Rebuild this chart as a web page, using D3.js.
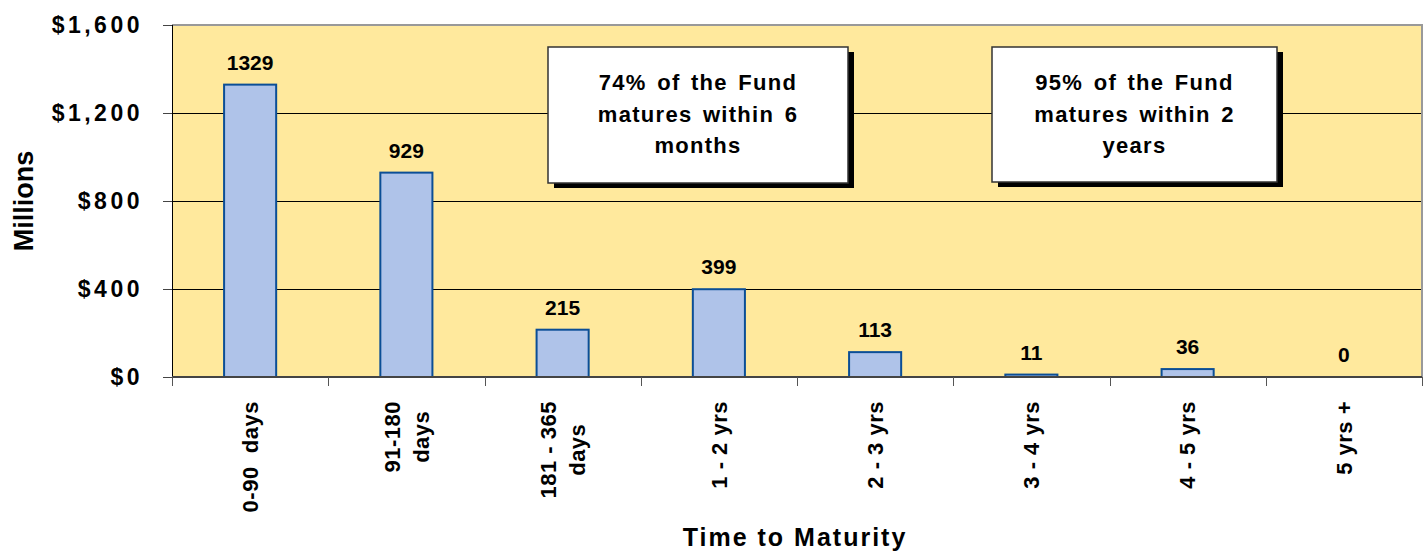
<!DOCTYPE html>
<html lang="en">
<head>
<meta charset="utf-8">
<style>
  body { margin: 0; background: #fff; }
  svg { display: block; font-family: "Liberation Sans", Arial, sans-serif; font-weight: bold; }
</style>
</head>
<body>
<svg width="1427" height="553"></svg>
<script src="https://cdn.jsdelivr.net/npm/d3@7/dist/d3.min.js"></script>
<script>
// chart data
var categories = ["0-90  days", "91-180\ndays", "181 - 365\ndays", "1 - 2 yrs", "2 - 3 yrs", "3 - 4 yrs", "4 - 5 yrs", "5 yrs +"];
var values = [1329, 929, 215, 399, 113, 11, 36, 0];
var yTicks = [0, 400, 800, 1200, 1600];
var notes = [
    ["74% of the Fund", "matures within 6", "months"],
    ["95% of the Fund", "matures within 2", "years"]
];

var svg = d3.select("svg"),
    margin = { top: 25, right: 5, bottom: 176, left: 172 },
    width = +svg.attr("width") - margin.left - margin.right,
    height = +svg.attr("height") - margin.top - margin.bottom;

var x = d3.scaleBand().domain(d3.range(categories.length)).range([0, width])
        .paddingInner(2 / 3).paddingOuter(1 / 3),
    y = d3.scaleLinear().domain([0, 1600]).range([height, 0]);

var g = svg.append("g")
    .attr("transform", "translate(" + margin.left + "," + margin.top + ")");

// plot background
g.append("rect")
    .attr("width", width).attr("height", height)
    .attr("fill", "#FFE99D");

// gridlines
g.selectAll(".grid")
    .data(yTicks.filter(function(d) { return d > 0 && d < 1600; }))
    .enter().append("line")
    .attr("x1", 0).attr("x2", width)
    .attr("y1", function(d) { return y(d) + 0.5; })
    .attr("y2", function(d) { return y(d) + 0.5; })
    .attr("stroke", "#000").attr("stroke-width", 1);

// top / right border
g.append("path")
    .attr("d", "M0," + y(1600) + "H" + width + "V" + height)
    .attr("fill", "none").attr("stroke", "#999").attr("stroke-width", 2);

// bars
var step = x.step();
g.selectAll(".bar")
    .data(values)
    .enter().append("rect")
    .attr("class", "bar")
    .attr("x", function(d, i) { return x(i); })
    .attr("y", function(d) { return y(d); })
    .attr("width", x.bandwidth())
    .attr("height", function(d) { return height - y(d); })
    .attr("fill", "#AFC3E9")
    .attr("stroke", "#0B4E96")
    .attr("stroke-width", 2)
    .style("display", function(d) { return d > 0 ? null : "none"; });

// value labels
g.selectAll(".val")
    .data(values)
    .enter().append("text")
    .attr("x", function(d, i) { return x(i) + x.bandwidth() / 2; })
    .attr("y", function(d) { return y(d) - 15; })
    .attr("text-anchor", "middle")
    .style("font-size", "21px")
    .attr("fill", "#000")
    .text(function(d) { return d; });

// y axis
var yAxis = g.append("g")
    .call(d3.axisLeft(y).tickValues(yTicks).tickSize(9).tickPadding(20)
        .tickFormat(function(d) { return "$" + d3.format(",")(d); }));
yAxis.select(".domain").attr("stroke", "#000").attr("d", "M0.5," + height + "V0");
yAxis.selectAll(".tick line").attr("stroke", "#444");
yAxis.selectAll("text")
    .style("font-size", "23px")
    .style("letter-spacing", "3.5px")
    .attr("fill", "#000");

// x axis baseline and boundary ticks
g.append("line")
    .attr("x1", 0).attr("x2", width)
    .attr("y1", height).attr("y2", height)
    .attr("stroke", "#444").attr("stroke-width", 2);
g.selectAll(".xtick")
    .data(d3.range(categories.length + 1))
    .enter().append("line")
    .attr("x1", function(i) { return Math.round(i * step) + 0.5; })
    .attr("x2", function(i) { return Math.round(i * step) + 0.5; })
    .attr("y1", height).attr("y2", height + 9)
    .attr("stroke", "#555");

// rotated category labels, lines centred in a block that hangs below the axis
var labelTop = height + 24, lineGap = 29;
categories.forEach(function(c, i) {
    var lines = c.split("\n"),
        cx = x(i) + x.bandwidth() / 2;
    var t = g.append("text")
        .attr("transform", "rotate(-90)")
        .attr("text-anchor", "middle")
        .style("font-size", "22px")
        .style("letter-spacing", "0.5px")
        .style("white-space", "pre")
        .attr("fill", "#000");
    var spans = lines.map(function(l, k) {
        return t.append("tspan")
            .attr("y", cx + (k - (lines.length - 1) / 2) * lineGap)
            .attr("dy", "0.35em")
            .text(l);
    });
    var maxW = d3.max(spans, function(s) { return s.node().getComputedTextLength(); });
    spans.forEach(function(s) { s.attr("x", -(labelTop + maxW / 2)); });
});

// axis titles
svg.append("text")
    .attr("transform", "translate(33," + (margin.top + height / 2) + ") rotate(-90)")
    .attr("text-anchor", "middle")
    .style("font-size", "27px")
    .text("Millions");

svg.append("text")
    .attr("x", 795).attr("y", 546)
    .attr("text-anchor", "middle")
    .style("font-size", "25px")
    .style("letter-spacing", "2px")
    .text("Time to Maturity");

// annotation boxes
var boxes = [
    { left: 376, top: 22, w: 300, h: 136 },
    { left: 820, top: 22, w: 285, h: 135 }
];
notes.forEach(function(lines, i) {
    var b = boxes[i];
    var n = g.append("g").attr("transform", "translate(" + b.left + "," + b.top + ")");
    n.append("rect").attr("x", 6).attr("y", 5).attr("width", b.w).attr("height", b.h).attr("fill", "#000");
    n.append("rect").attr("width", b.w).attr("height", b.h)
        .attr("fill", "#fff").attr("stroke", "#333").attr("stroke-width", 1.5);
    n.selectAll("text").data(lines).enter().append("text")
        .attr("x", b.w / 2)
        .attr("y", function(d, k) { return 43 + k * 31.5; })
        .attr("text-anchor", "middle")
        .style("font-size", "22px")
        .style("letter-spacing", "1.3px")
        .style("word-spacing", "3px")
        .text(function(d) { return d; });
});
</script>
</body>
</html>
